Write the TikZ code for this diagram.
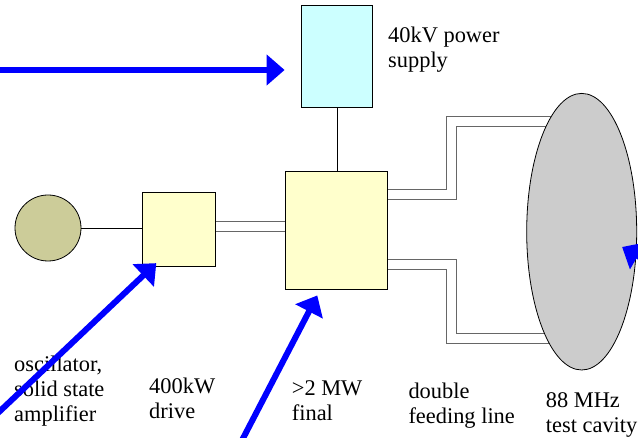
\documentclass[tikz,border=0pt]{standalone}
\usepackage{fontspec}
\setmainfont{Liberation Serif}
\usetikzlibrary{arrows.meta,shapes.geometric,backgrounds}
\definecolor{drivefill}{HTML}{FFFFCC}
\definecolor{supplyfill}{HTML}{CCFFFF}
\definecolor{oscfill}{HTML}{CCCC99}
\definecolor{cavityfill}{HTML}{CCCCCC}

\begin{document}
\begin{tikzpicture}[
x=1pt,y=-1pt,
font=\fontsize{22.4}{25}\selectfont,
unit/.style={draw,line width=0.8pt,fill=drivefill,inner sep=0pt},
supply/.style={unit,fill=supplyfill},
lbl/.style={anchor=base west,align=left,inner sep=0pt},
wire/.style={line width=0.9pt},
feed/.style={draw=gray!80!black,line width=0.9pt,double=white,double distance=8.8pt},
beam/.style={-{Triangle[length=18pt,width=30pt]},line width=6pt,blue}
]
\clip (0,0) rectangle (638,438);

\node[supply,minimum width=71pt,minimum height=102pt] (psu) at (337.2,56.3) {};
\node[unit,minimum width=102.4pt,minimum height=118.3pt] (final) at (336.5,230.2) {};
\node[unit,minimum width=73.4pt,minimum height=73.7pt] (drive) at (179,229.2) {};
\node[circle,draw,line width=0.8pt,fill=oscfill,minimum size=66pt,inner sep=0pt] (osc) at (48,228) {};

% feeding lines go under the cavity
\begin{scope}[on background layer]
\draw[feed] ([yshift=2.8pt]drive.east) -- ([yshift=2.8pt]drive.east -| final.west);
\draw[feed] ([yshift=35.5pt]final.east) -- ++(63.6,0) |- (581.7,121.7);
\draw[feed] ([yshift=-34.5pt]final.east) -- ++(63.6,0) |- (581.7,338.3);
\end{scope}
\node[ellipse,draw,line width=0.8pt,fill=cavityfill,minimum width=110pt,minimum height=276.6pt,inner sep=0pt] (cavity) at (581.7,231.7) {};

\draw[wire] (osc) -- (drive.west |- osc);
\draw[wire] (psu) -- (psu |- final.north);

% labels sit on the baseline of their last line
\node[lbl] (psulbl) at (388,68) {40kV power\\supply};
\node[lbl] (osclbl) at (14,422) {oscillator,\\solid state\\amplifier};
\node[lbl] (drivelbl) at (149,418.5) {400kW\\drive};
\node[lbl] (finallbl) at (291.7,420.5) {>2 MW\\final};
\node[lbl] (feedlbl) at (408.3,424) {double\\feeding line};
\node[lbl] (cavitylbl) at (545.7,433) {88 MHz\\test cavity};

% beams coming in from outside
\coordinate (beamA) at (-5,70);
\coordinate (beamB) at (-10,420.5);
\coordinate (beamC) at (238,448);
\coordinate (beamD) at (650,263);
\draw[beam,shorten >=16.7pt] (beamA) -- (beamA -| psu.west);
\draw[beam] (beamB) -- ([shift={(14.4,-3.3)}]drive.south west);
\draw[beam] (beamC) -- ([shift={(32.4,5.7)}]final.south west);
\draw[beam] (beamD) -- ([shift={(-15,15.3)}]cavity.east);
\end{tikzpicture}
\end{document}
